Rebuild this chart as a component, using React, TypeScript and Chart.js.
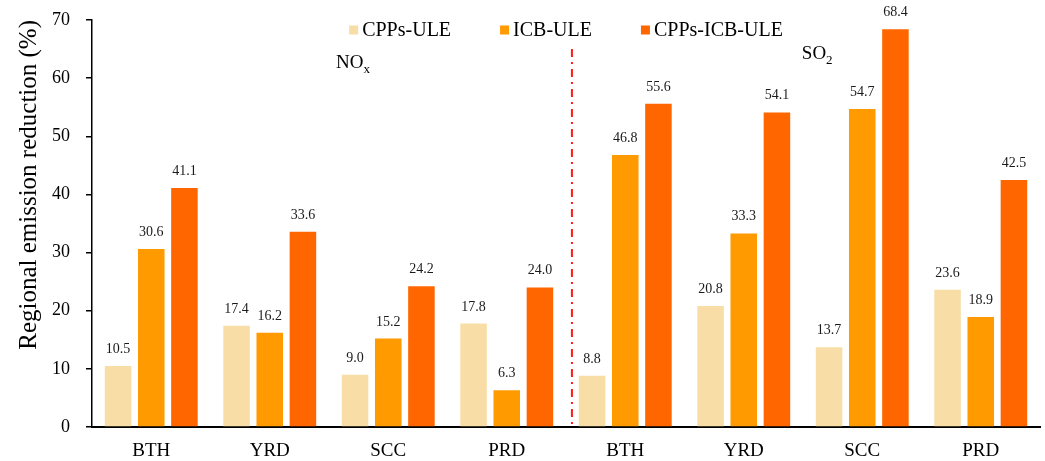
import React, { useEffect, useRef } from "react";
import { Chart, registerables } from "chart.js";

Chart.register(...registerables);

const categories = ["BTH", "YRD", "SCC", "PRD", "BTH", "YRD", "SCC", "PRD"];
const seriesNames = ["CPPs-ULE", "ICB-ULE", "CPPs-ICB-ULE"];
const cppsUle = [10.5, 17.4, 9.0, 17.8, 8.8, 20.8, 13.7, 23.6];
const icbUle = [30.6, 16.2, 15.2, 6.3, 46.8, 33.3, 54.7, 18.9];
const cppsIcbUle = [41.1, 33.6, 24.2, 24.0, 55.6, 54.1, 68.4, 42.5];
const seriesColors = ["#F8DEA6", "#FF9A00", "#FF6600"];
const yTicks = [0, 10, 20, 30, 40, 50, 60, 70];

// annotation anchors in data units
const dividerX = 3.55;
const dividerTop = 65;
const noxAnchor = { x: 1.56, y: 61.7 };
const so2Anchor = { x: 5.49, y: 63.3 };

const SERIF = "'Liberation Serif', 'Times New Roman', serif";

const valueLabels = {
  id: "valueLabels",
  afterDatasetsDraw(chart: any) {
    const ctx = chart.ctx;
    ctx.save();
    ctx.font = `14px ${SERIF}`;
    ctx.fillStyle = "#1a1a1a";
    ctx.textAlign = "center";
    ctx.textBaseline = "alphabetic";
    chart.data.datasets.forEach((ds: any, di: number) => {
      const meta = chart.getDatasetMeta(di);
      meta.data.forEach((bar: any, i: number) => {
        const v = ds.data[i];
        ctx.fillText(Number(v).toFixed(1), bar.x, bar.y - 13);
      });
    });
    ctx.restore();
  },
};

const annotations = {
  id: "annotations",
  afterDraw(chart: any) {
    const ctx = chart.ctx;
    const xs = chart.scales.x;
    const ys = chart.scales.y;
    ctx.save();
    // dash-dot divider
    const dx = xs.getPixelForValue(dividerX);
    ctx.strokeStyle = "#FF1A1A";
    ctx.lineWidth = 2;
    ctx.setLineDash([8, 5, 2, 5]);
    ctx.beginPath();
    ctx.moveTo(dx, ys.getPixelForValue(dividerTop));
    ctx.lineTo(dx, ys.getPixelForValue(0));
    ctx.stroke();
    ctx.setLineDash([]);

    // NOx / SO2 labels
    const drawChem = (main: string, sub: string, a: { x: number; y: number }) => {
      const px = xs.getPixelForValue(a.x);
      const py = ys.getPixelForValue(a.y);
      ctx.fillStyle = "#000";
      ctx.textAlign = "left";
      ctx.textBaseline = "alphabetic";
      ctx.font = `19px ${SERIF}`;
      ctx.fillText(main, px, py);
      const w = ctx.measureText(main).width;
      ctx.font = `13px ${SERIF}`;
      ctx.fillText(sub, px + w, py + 5);
    };
    drawChem("NO", "x", noxAnchor);
    drawChem("SO", "2", so2Anchor);

    // legend
    ctx.font = `20px ${SERIF}`;
    const box = 9;
    const gapBox = 4;
    const gapItem = 49;
    const widths = seriesNames.map((n) => box + gapBox + ctx.measureText(n).width);
    const total = widths.reduce((s, w) => s + w, 0) + gapItem * (seriesNames.length - 1);
    const area = chart.chartArea;
    let x = (area.left + area.right) / 2 - total / 2;
    const cy = 30;
    seriesNames.forEach((n, i) => {
      ctx.fillStyle = seriesColors[i];
      ctx.fillRect(x, cy - box / 2, box, box);
      ctx.fillStyle = "#000";
      ctx.textAlign = "left";
      ctx.textBaseline = "alphabetic";
      ctx.fillText(n, x + box + gapBox, cy + 6);
      x += widths[i] + gapItem;
    });
    ctx.restore();
  },
};

export default function App() {
  const ref = useRef<HTMLCanvasElement | null>(null);
  useEffect(() => {
    if (!ref.current) return;
    const chart = new Chart(ref.current, {
      type: "bar",
      data: {
        labels: categories,
        datasets: [cppsUle, icbUle, cppsIcbUle].map((d, i) => ({
          label: seriesNames[i],
          data: d,
          backgroundColor: seriesColors[i],
          borderWidth: 0,
          categoryPercentage: 0.84,
          barPercentage: 0.8,
        })),
      },
      options: {
        responsive: false,
        animation: false,
        layout: { padding: { top: 20, right: 5, bottom: 0, left: 0 } },
        plugins: {
          legend: { display: false },
          tooltip: { enabled: false },
        },
        scales: {
          x: {
            grid: { display: false, drawTicks: false },
            border: { display: true, color: "#000", width: 2 },
            ticks: {
              color: "#000",
              font: { family: SERIF, size: 19 },
              padding: 13,
            },
            afterFit: (s: any) => {
              s.height = 34;
            },
          },
          y: {
            min: 0,
            max: 70,
            afterBuildTicks: (s: any) => {
              s.ticks = yTicks.map((v) => ({ value: v }));
            },
            grid: {
              drawOnChartArea: false,
              drawTicks: true,
              tickLength: 16,
              tickBorderDash: [0, 10, 6, 40],
              color: "#000",
              lineWidth: 1.5,
            },
            border: { display: true, color: "#000", width: 1.5 },
            ticks: {
              color: "#000",
              font: { family: SERIF, size: 18 },
              padding: 6,
            },
            title: {
              display: true,
              text: "Regional emission reduction (%)",
              color: "#000",
              align: "end",
              font: { family: SERIF, size: 25 },
              padding: { top: 14, bottom: 0 },
            },
            afterFit: (s: any) => {
              s.width = 92;
            },
          },
        },
      },
      plugins: [valueLabels, annotations],
    });
    return () => chart.destroy();
  }, []);
  return (
    <div style={{ position: "absolute", left: 0, top: 0, width: 1045, height: 461 }}>
      <canvas ref={ref} width={1045} height={461} />
    </div>
  );
}
